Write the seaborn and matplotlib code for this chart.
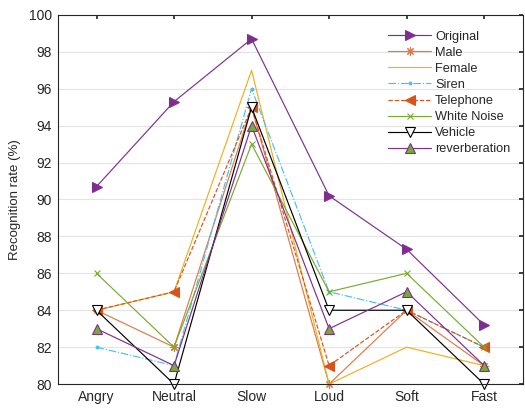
import matplotlib
matplotlib.use("Agg")
import matplotlib.pyplot as plt
import seaborn as sns
import pandas as pd

categories = ["Angry", "Neutral", "Slow", "Loud", "Soft", "Fast"]

original = [90.7, 95.3, 98.7, 90.2, 87.3, 83.2]
male = [84, 82, 95, 80, 84, 81]
female = [84, 85, 97, 80, 82, 81]
siren = [82, 81, 96, 85, 84, 82]
telephone = [84, 85, 95, 81, 84, 82]
white_noise = [86, 82, 93, 85, 86, 82]
vehicle = [84, 80, 95, 84, 84, 80]
reverberation = [83, 81, 94, 83, 85, 81]

series = [
    ("Original", original),
    ("Male", male),
    ("Female", female),
    ("Siren", siren),
    ("Telephone", telephone),
    ("White Noise", white_noise),
    ("Vehicle", vehicle),
    ("reverberation", reverberation),
]

styles = {
    "Original": dict(color="#7E2F8E", ls="-", marker=">", ms=7, mfc="#7E2F8E", mec="#7E2F8E"),
    "Male": dict(color="#E0794A", ls="-", marker=(8, 2, 0), ms=6, mfc="none", mec="#E0794A"),
    "Female": dict(color="#EDB120", ls="-", marker=None),
    "Siren": dict(color="#4DBEEE", ls="-.", marker=".", ms=4, mfc="#4DBEEE", mec="#4DBEEE"),
    "Telephone": dict(color="#D95319", ls="--", marker="<", ms=7, mfc="#D95319", mec="#D95319"),
    "White Noise": dict(color="#77AC30", ls="-", marker="x", ms=5, mfc="none", mec="#77AC30"),
    "Vehicle": dict(color="#000000", ls="-", marker="v", ms=7, mfc="white", mec="black"),
    "reverberation": dict(color="#7E2F8E", ls="-", marker="^", ms=7, mfc="#77AC30", mec="#7E2F8E"),
}

rows = []
for name, vals in series:
    for i, v in enumerate(vals):
        rows.append({"series": name, "x": i + 1, "category": categories[i], "value": v})
df = pd.DataFrame(rows)

sns.set_theme(style="white")
plt.rcParams["font.family"] = ["Liberation Sans", "DejaVu Sans"]

fig = plt.figure(figsize=(5.25, 4.13), dpi=100)
ax = fig.add_axes([0.110, 0.070, 0.886, 0.894])

for name, _ in series:
    st = styles[name]
    sub = df[df["series"] == name]
    kw = dict(color=st["color"], linestyle=st["ls"], linewidth=0.85)
    if st["marker"] is not None:
        kw.update(marker=st["marker"], markersize=st["ms"],
                  markerfacecolor=st["mfc"], markeredgecolor=st["mec"],
                  markeredgewidth=0.8)
    sns.lineplot(data=sub, x="x", y="value", ax=ax, label=name,
                 sort=False, estimator=None, clip_on=False, **kw)

ax.set_xlim(0.5, 6.5)
ax.set_ylim(80, 100)
ax.set_xticks(range(1, len(categories) + 1))
ax.set_xticklabels(categories)
ax.set_yticks(range(80, 101, 2))
ax.set_xlabel("")
ax.set_ylabel("Recognition rate (%)", fontsize=9.5, labelpad=6)
ax.tick_params(axis="both", labelsize=10, direction="in", length=3,
               top=True, right=True, color="#262626", pad=4)
ax.yaxis.grid(True, color="#E3E3E3", linewidth=0.8)
ax.xaxis.grid(False)
ax.set_axisbelow(True)
for sp in ax.spines.values():
    sp.set_color("#262626")
    sp.set_linewidth(0.8)

leg = ax.legend(loc="upper left", bbox_to_anchor=(0.70, 0.971), frameon=False,
                fontsize=9.2, handlelength=3.36, labelspacing=0.32,
                handletextpad=0.3, borderaxespad=0.0)

fig.savefig("out.png", dpi=100)
